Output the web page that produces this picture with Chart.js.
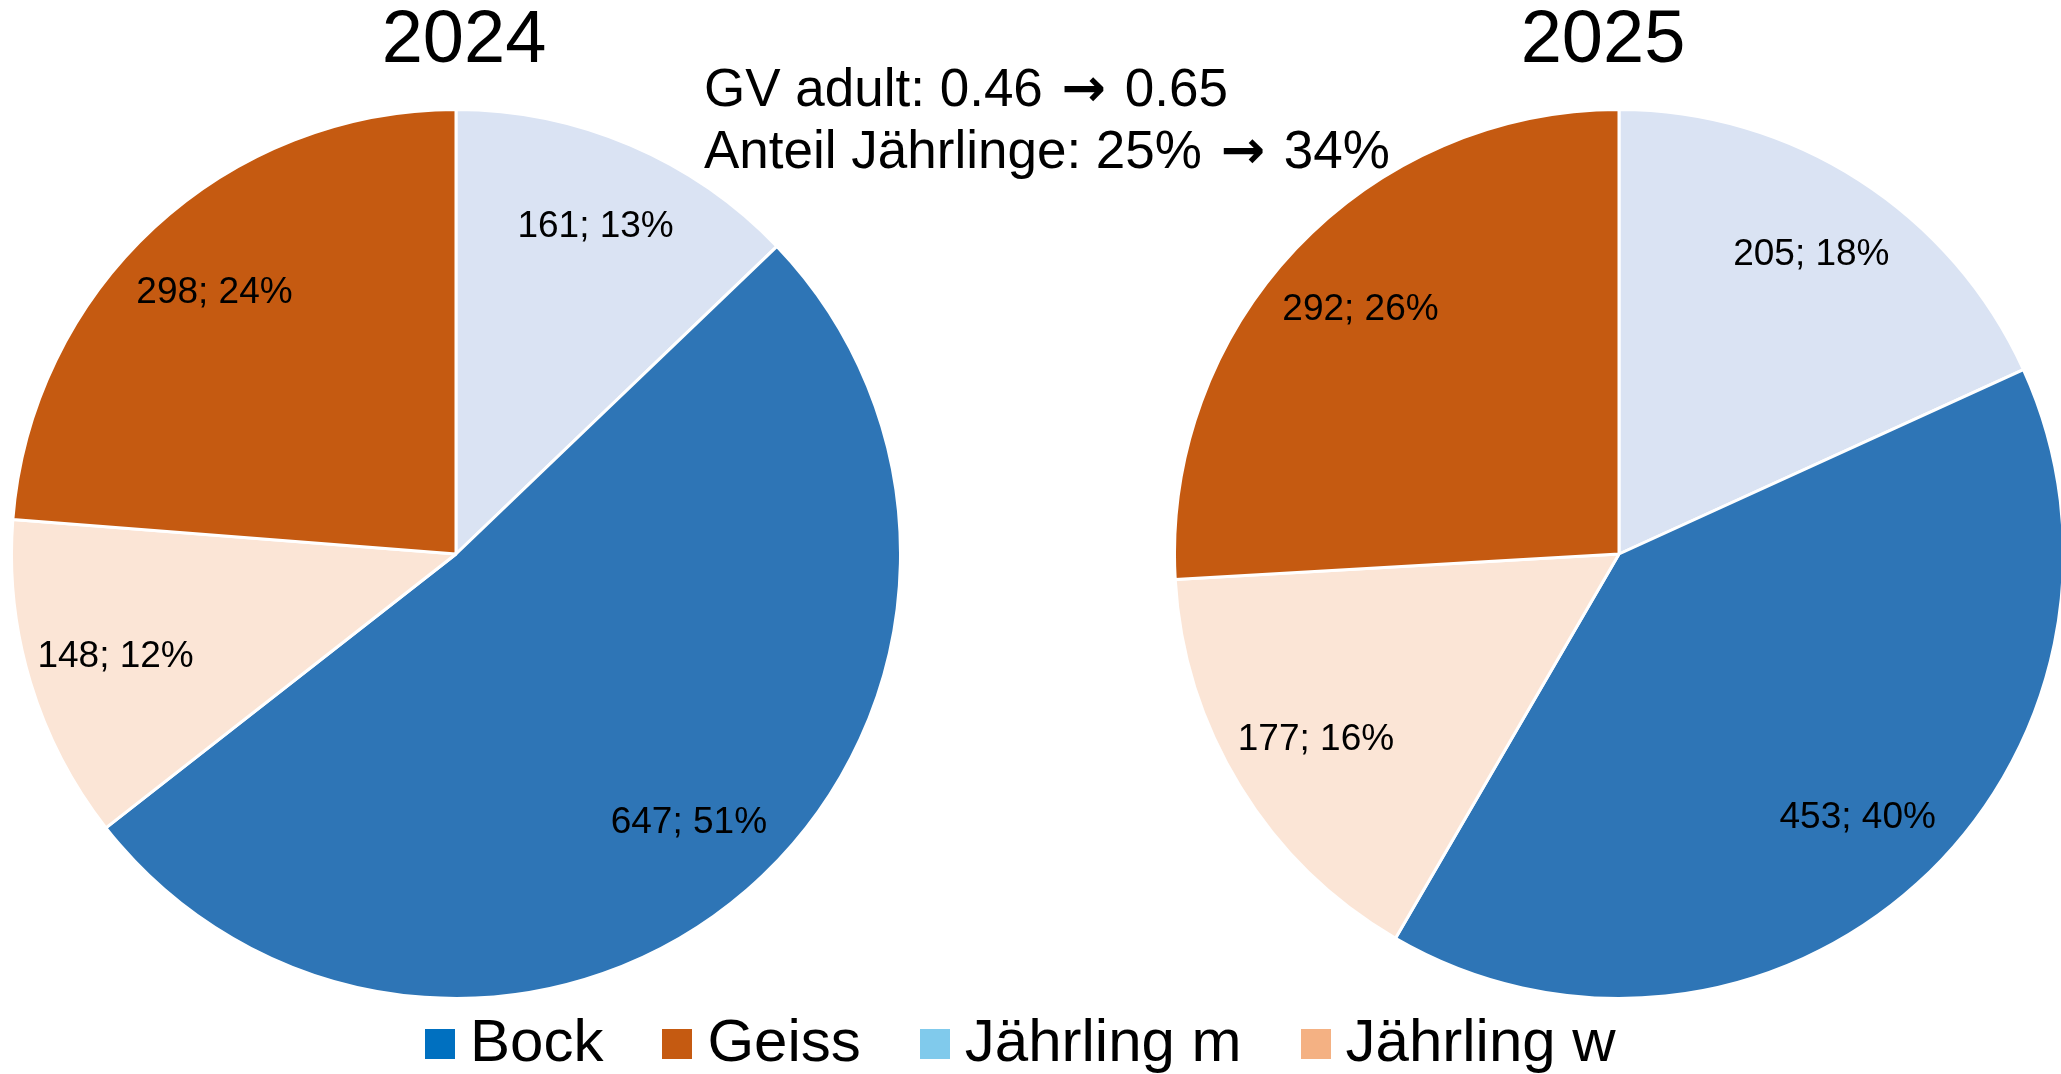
<!DOCTYPE html>
<html>
<head>
<meta charset="utf-8">
<script src="https://cdn.jsdelivr.net/npm/chart.js@4/dist/chart.umd.min.js"></script>
<style>
  html, body { margin: 0; padding: 0; background: #fff; overflow: hidden; }
  body { width: 2061px; height: 1074px; position: relative; font-family: "Liberation Sans", Arial, sans-serif; color: #000; }
  canvas { position: absolute; top: 108px; }
  #pie2024 { left: 10px; }
  #pie2025 { left: 1173px; }
  .title { position: absolute; top: 0; font-size: 74px; line-height: 74px; transform: translateX(-50%); white-space: nowrap; }
  #note { position: absolute; left: 704px; top: 57px; font-size: 53px; line-height: 62px; white-space: nowrap; }
  .arrow { font-family: "DejaVu Sans", sans-serif; font-weight: bold; padding: 0 4px; }
  #legend { position: absolute; left: 425px; top: 1011px; display: flex; font-size: 60px; line-height: 60px; white-space: nowrap; }
  .item { display: flex; align-items: flex-start; margin-right: 59px; }
  .box { width: 30px; height: 30px; margin-top: 18px; margin-right: 15px; }
</style>
</head>
<body>
<div class="title" style="left:464px">2024</div>
<div class="title" style="left:1603px">2025</div>
<div id="note">GV adult: 0.46 <span class="arrow">→</span> 0.65<br>Anteil Jährlinge: 25% <span class="arrow">→</span> 34%</div>
<canvas id="pie2024" width="892" height="892"></canvas>
<canvas id="pie2025" width="892" height="892"></canvas>
<div id="legend"></div>
<script>
  // slices clockwise from 12 o'clock
  const categories = ['Jährling m', 'Bock', 'Jährling w', 'Geiss'];
  const counts2024 = [161, 647, 148, 298];
  const pct2024 = [13, 51, 12, 24];
  const counts2025 = [205, 453, 177, 292];
  const pct2025 = [18, 40, 16, 26];
  const sliceColors = ['#DAE3F3', '#2E75B6', '#FBE5D6', '#C55A11'];

  // legend uses its own (brighter) swatches, as in the original
  const legendLabels = ['Bock', 'Geiss', 'Jährling m', 'Jährling w'];
  const legendColors = ['#0070C0', '#C55A11', '#80CAEC', '#F4B183'];

  // draws "value; pct%" inside each slice
  const sliceLabels = {
    id: 'sliceLabels',
    afterDatasetsDraw(chart, args, opts) {
      const ctx = chart.ctx;
      const meta = chart.getDatasetMeta(0);
      const values = chart.data.datasets[0].data;
      ctx.save();
      ctx.font = '37px "Liberation Sans", Arial, sans-serif';
      ctx.fillStyle = '#000';
      ctx.textAlign = 'center';
      ctx.textBaseline = 'middle';
      meta.data.forEach((arc, i) => {
        const mid = (arc.startAngle + arc.endAngle) / 2;
        const r = arc.outerRadius * 0.8;
        ctx.fillText(values[i] + '; ' + opts.pct[i] + '%', arc.x + Math.cos(mid) * r, arc.y + Math.sin(mid) * r);
      });
      ctx.restore();
    }
  };

  function makePie(id, counts, pct) {
    return new Chart(document.getElementById(id), {
      type: 'pie',
      data: {
        labels: categories,
        datasets: [{
          data: counts,
          backgroundColor: sliceColors,
          borderColor: '#ffffff',
          borderWidth: 3
        }]
      },
      options: {
        responsive: false,
        animation: false,
        layout: { padding: 0 },
        plugins: {
          legend: { display: false },
          tooltip: { enabled: false },
          sliceLabels: { pct }
        }
      },
      plugins: [sliceLabels]
    });
  }

  makePie('pie2024', counts2024, pct2024);
  makePie('pie2025', counts2025, pct2025);

  const legend = document.getElementById('legend');
  legend.innerHTML = legendLabels.map((l, i) =>
    `<div class="item"><div class="box" style="background:${legendColors[i]}"></div><span>${l}</span></div>`
  ).join('');
</script>
</body>
</html>
